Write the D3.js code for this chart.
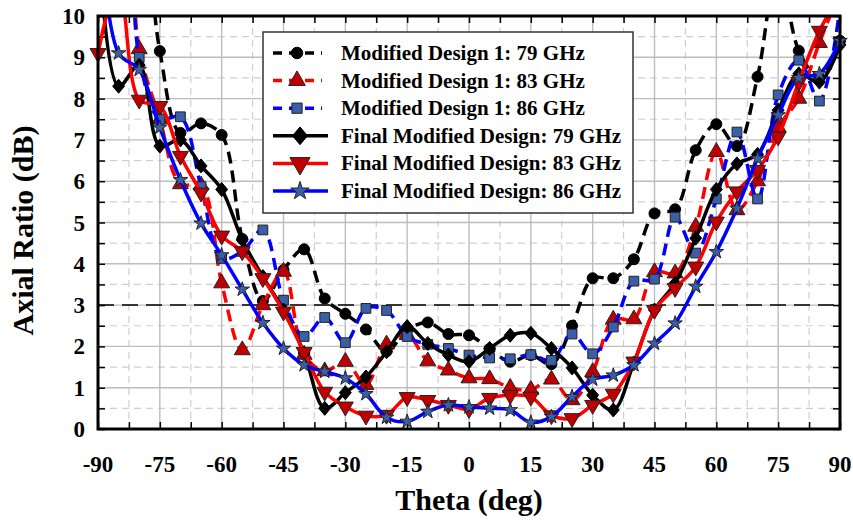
<html>
<head>
<title>Axial Ratio vs Theta</title>
<script src="https://d3js.org/d3.v7.min.js"></script>
<style>
body { margin: 0; background: #fff; }
text { font-family: "Liberation Serif", "Times New Roman", serif; font-weight: bold; }
</style>
</head>
<body>
<div id="chart"></div>
<script>
//Data
var theta = [-90,-85,-80,-75,-70,-65,-60,-55,-50,-45,-40,-35,-30,-25,-20,-15,-10,-5,0,5,10,15,20,25,30,35,40,45,50,55,60,65,70,75,80,85,90];
var mod79 = [14,14,13,9.15,7.17,7.4,7.12,4.6,3.1,3.85,4.35,3.16,2.79,2.41,1.88,2.4,2.58,2.3,2.27,1.94,1.63,1.79,1.57,2.5,3.65,3.65,4.11,5.22,5.32,6.75,7.38,6.85,8.53,11.2,9.16,8.5,9.4];
var mod83 = [14,14,9.2,7.5,5.93,5.9,3.53,1.91,3.0,3.81,1.8,1.4,1.63,1.07,2.05,2.28,1.64,1.42,1.23,1.21,1.0,0.95,1.2,0.7,1.38,2.65,2.66,3.8,3.77,4.9,6.71,5.3,6.0,7.3,8.0,9.35,10.6];
var mod86 = [14,14,9.0,7.5,7.56,5.87,4.13,4.3,4.82,3.12,2.24,2.7,2.09,2.92,2.87,2.24,2.05,1.95,1.79,1.72,1.7,1.8,1.66,2.3,1.82,2.47,3.58,3.63,5.13,4.26,5.57,7.19,5.57,8.09,8.93,7.94,10.2];
var fin79 = [12,8.3,8.81,6.85,7.0,6.37,5.8,4.58,3.69,2.88,1.84,0.5,0.88,1.26,1.87,2.48,2.07,1.79,1.63,1.95,2.27,2.32,1.95,1.48,0.82,0.46,1.6,2.88,3.53,4.62,5.8,6.42,6.65,7.72,8.6,8.4,9.3];
var fin83 = [9.1,10.8,7.97,7.82,6.61,5.72,4.68,4.3,3.65,2.84,1.86,0.9,0.54,0.32,0.34,0.77,0.7,0.58,0.48,0.75,0.82,0.78,0.33,0.26,0.58,0.85,1.63,2.88,3.41,3.93,5.02,5.75,6.27,7.08,8.4,9.64,10.5];
var fin86 = [13,9.1,8.7,7.3,6.03,4.98,4.21,3.38,2.57,1.95,1.55,1.39,1.23,0.85,0.28,0.18,0.42,0.58,0.53,0.5,0.46,0.16,0.3,0.78,1.2,1.3,1.55,2.07,2.56,3.45,4.29,5.34,6.55,7.6,8.5,8.6,9.4];
var xTicks = [-90,-75,-60,-45,-30,-15,0,15,30,45,60,75,90];
var yTicks = [0,1,2,3,4,5,6,7,8,9,10];
var names = ["Modified Design 1: 79 GHz","Modified Design 1: 83 GHz","Modified Design 1: 86 GHz",
	"Final Modified Design: 79 GHz","Final Modified Design: 83 GHz","Final Modified Design: 86 GHz"];

var series = [
	{name: names[0], vals: mod79, color: "#000", fill: "#000", dash: "12,7", mark: "circle"},
	{name: names[1], vals: mod83, color: "#ff0000", fill: "#c00000", dash: "12,7", mark: "triangle"},
	{name: names[2], vals: mod86, color: "#0000ff", fill: "#3a5ea8", dash: "12,7", mark: "square"},
	{name: names[3], vals: fin79, color: "#000", fill: "#000", dash: null, mark: "diamond"},
	{name: names[4], vals: fin83, color: "#ff0000", fill: "#c00000", dash: null, mark: "tridown"},
	{name: names[5], vals: fin86, color: "#0000ff", fill: "#3a5ea8", dash: null, mark: "star"}
];

//Setup
var W = 853, H = 523;
var x0 = 98, x1 = 840, y0 = 16, y1 = 429;
var svg = d3.select("#chart").append("svg")
	.attr("width", W)
	.attr("height", H);

var x = d3.scaleLinear().domain([-90, 90]).range([x0, x1]);
var y = d3.scaleLinear().domain([0, 10]).range([y1, y0]);

svg.append("clipPath").attr("id", "clip")
	.append("rect").attr("x", x0).attr("y", y0).attr("width", x1 - x0).attr("height", y1 - y0);

// Grid
var g = svg.append("g");
for (var t = -82.5; t < 90; t += 15) {
	g.append("line").attr("x1", x(t)).attr("x2", x(t)).attr("y1", y0).attr("y2", y1)
		.attr("stroke", "#cfcfcf").attr("stroke-width", 1.2).attr("stroke-dasharray", "7,5");
}
for (var v = 0.5; v < 10; v += 1) {
	g.append("line").attr("x1", x0).attr("x2", x1).attr("y1", y(v)).attr("y2", y(v))
		.attr("stroke", "#cfcfcf").attr("stroke-width", 1.2).attr("stroke-dasharray", "7,5");
}
xTicks.forEach(function(t) {
	g.append("line").attr("x1", x(t)).attr("x2", x(t)).attr("y1", y0).attr("y2", y1)
		.attr("stroke", "#bdbdbd").attr("stroke-width", 1.4);
});
yTicks.forEach(function(v) {
	g.append("line").attr("x1", x0).attr("x2", x1).attr("y1", y(v)).attr("y2", y(v))
		.attr("stroke", "#bdbdbd").attr("stroke-width", 1.4);
});
// 3 dB line
g.append("line").attr("x1", x0).attr("x2", x1).attr("y1", y(3)).attr("y2", y(3))
	.attr("stroke", "#000").attr("stroke-width", 1.5).attr("stroke-dasharray", "16,8");

// Axis ticks (inside, all four sides)
var axB = d3.axisBottom(x).tickValues(d3.range(-90, 90.1, 7.5)).tickSize(-7).tickFormat("");
var axT = d3.axisTop(x).tickValues(d3.range(-90, 90.1, 7.5)).tickSize(-7).tickFormat("");
var axL = d3.axisLeft(y).tickValues(d3.range(0, 10.1, 0.5)).tickSize(-7).tickFormat("");
var axR = d3.axisRight(y).tickValues(d3.range(0, 10.1, 0.5)).tickSize(-7).tickFormat("");
[[axB, "translate(0," + y1 + ")"], [axT, "translate(0," + y0 + ")"],
 [axL, "translate(" + x0 + ",0)"], [axR, "translate(" + x1 + ",0)"]].forEach(function(a) {
	var ag = svg.append("g").attr("transform", a[1]).call(a[0]);
	ag.select(".domain").remove();
	ag.selectAll("line").attr("stroke", "#000").attr("stroke-width", 1.5);
});

// Markers
function markPath(type, s) {
	if (type == "circle") return d3.symbol().type(d3.symbolCircle).size(95 * s)();
	if (type == "square") return d3.symbol().type(d3.symbolSquare).size(95 * s)();
	if (type == "triangle" || type == "tridown") return d3.symbol().type(d3.symbolTriangle).size(110 * s)();
	if (type == "star") return d3.symbol().type(d3.symbolStar).size(65 * s)();
	if (type == "diamond") {
		var r = 7 * Math.sqrt(s);
		return "M0," + (-r) + "L" + (r * 0.85) + ",0L0," + r + "L" + (-r * 0.85) + ",0Z";
	}
}
function drawMark(sel, d, px, py, s) {
	sel.append("path")
		.attr("d", markPath(d.mark, s))
		.attr("transform", "translate(" + px + "," + py + ")" + (d.mark == "tridown" ? " rotate(180)" : ""))
		.attr("fill", d.fill)
		.attr("stroke", d.color == "#000" ? "#000" : "#222")
		.attr("stroke-width", 1);
}

// Lines
var line = d3.line()
	.x(function(p) { return x(p[0]); })
	.y(function(p) { return y(p[1]); })
	.curve(d3.curveCatmullRom.alpha(0.5));

var plot = svg.append("g");
series.forEach(function(d) {
	var pts = theta.map(function(t, i) { return [t, d.vals[i]]; });
	plot.append("path")
		.attr("clip-path", "url(#clip)")
		.attr("d", line(pts))
		.attr("fill", "none")
		.attr("stroke", d.color)
		.attr("stroke-width", 3.5)
		.attr("stroke-dasharray", d.dash);
	pts.forEach(function(p) {
		if (p[1] <= 10) drawMark(plot, d, x(p[0]), y(p[1]), 1);
	});
});

// Frame
svg.append("rect").attr("x", x0).attr("y", y0).attr("width", x1 - x0).attr("height", y1 - y0)
	.attr("fill", "none").attr("stroke", "#000").attr("stroke-width", 3);

// Tick labels
svg.selectAll(".xl").data(xTicks).enter().append("text")
	.attr("x", function(t) { return x(t); })
	.attr("y", 472)
	.attr("text-anchor", "middle")
	.attr("font-size", "23px")
	.text(function(t) { return t; });
svg.selectAll(".yl").data(yTicks).enter().append("text")
	.attr("x", 85)
	.attr("y", function(v) { return y(v) + 8; })
	.attr("text-anchor", "end")
	.attr("font-size", "23px")
	.text(function(v) { return v; });

// Axis titles
svg.append("text")
	.attr("x", 469).attr("y", 510)
	.attr("text-anchor", "middle")
	.attr("font-size", "30px")
	.text("Theta (deg)");
svg.append("text")
	.attr("transform", "translate(33," + ((y0 + y1) / 2 + 8) + ") rotate(-90)")
	.attr("text-anchor", "middle")
	.attr("font-size", "30px")
	.text("Axial Ratio (dB)");

// Legend
var lg = svg.append("g");
lg.append("rect").attr("x", 263).attr("y", 32).attr("width", 370).attr("height", 181)
	.attr("fill", "#fff").attr("stroke", "#333").attr("stroke-width", 1.5);
series.forEach(function(d, i) {
	var ly = 53 + i * 27.6;
	lg.append("line")
		.attr("x1", 273).attr("x2", d.dash ? 322 : 328).attr("y1", ly).attr("y2", ly)
		.attr("stroke", d.color).attr("stroke-width", 3.5)
		.attr("stroke-dasharray", d.dash ? "9,7" : null);
	drawMark(lg, d, d.dash ? 297 : 300, ly, d.dash ? 1.1 : 1.6);
	lg.append("text")
		.attr("x", 341).attr("y", ly + 7)
		.attr("font-size", "21px")
		.text(d.name);
});
</script>
</body>
</html>
